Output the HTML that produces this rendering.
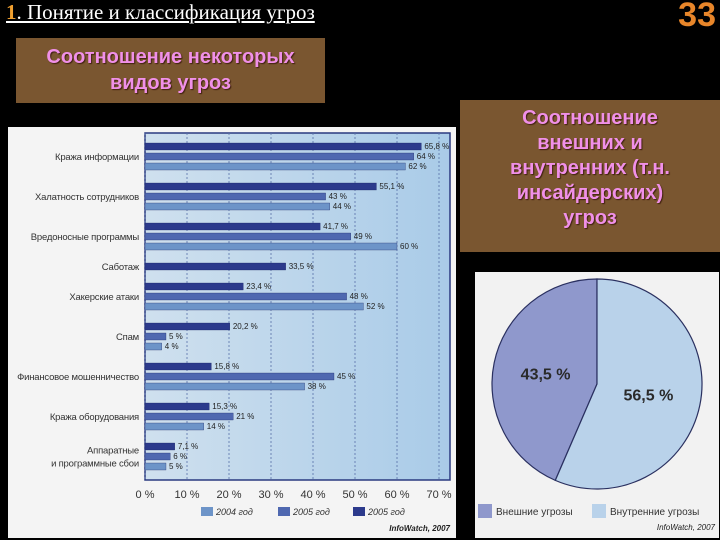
<!DOCTYPE html>
<html><head><meta charset="utf-8"><style>
body{margin:0;width:720px;height:540px;background:#000;overflow:hidden;position:relative;font-family:"Liberation Sans","Noto Sans CJK SC",sans-serif}
.t{position:absolute;left:6px;top:0;font-family:"Liberation Serif",serif;font-size:21px;color:#fff;text-decoration:underline}
.t b{color:#f0a030}
.num{position:absolute;right:4px;top:-4px;font-size:34px;font-weight:bold;color:#e8862a}
.box{position:absolute;background:#7a5630;color:#f090e8;font-weight:bold;text-align:center;text-shadow:1px 1px 1px #402010}
</style></head><body>
<div class="t"><b>1</b>. Понятие и классификация угроз</div>
<div class="num">33</div>
<div class="box" style="left:16px;top:38px;width:309px;height:65px;font-size:20px;line-height:26px;padding-top:6px;box-sizing:border-box">Соотношение некоторых<br>видов угроз</div>
<div class="box" style="left:460px;top:100px;width:260px;height:152px;font-size:20px;line-height:25px;padding-top:6px;box-sizing:border-box">Соотношение<br>внешних и<br>внутренних (т.н.<br>инсайдерских)<br>угроз</div>

<svg id="bar" style="position:absolute;left:8px;top:127px" width="448" height="411"></svg>
<svg id="pie" style="position:absolute;left:475px;top:272px" width="244" height="266"></svg>

<script>
const categories=[["Кража информации"],["Халатность сотрудников"],["Вредоносные программы"],["Саботаж"],["Хакерские атаки"],["Спам"],["Финансовое мошенничество"],["Кража оборудования"],["Аппаратные","и программные сбои"]];
const s2006=[65.8,55.1,41.7,33.5,23.4,20.2,15.8,15.3,7.1];
const s2005=[64,43,49,null,48,5,45,21,6];
const s2004=[62,44,60,null,52,4,38,14,5];
const ticks=[0,10,20,30,40,50,60,70];
const pieValues=[43.5,56.5];
const pieLabels=["Внешние угрозы","Внутренние угрозы"];

const NS="http://www.w3.org/2000/svg";
function mk(p,tag,attrs,txt){const e=document.createElementNS(NS,tag);for(const k in attrs)e.setAttribute(k,attrs[k]);if(txt!=null)e.textContent=txt;p.appendChild(e);return e;}
const bar=document.getElementById('bar');
const X0=137,XS=4.2,PT=6,PB=353;
const xs=v=>X0+v*XS;
const bg=mk(bar,'rect',{x:0,y:0,width:448,height:411,fill:'#f4f4f4'});

const defs=mk(bar,'defs',{});
const lg=mk(defs,'linearGradient',{id:'pg',x1:0,y1:0,x2:1,y2:0});
mk(lg,'stop',{offset:0,'stop-color':'#cfe0ee'});mk(lg,'stop',{offset:1,'stop-color':'#a9cbe8'});
const pa=mk(bar,'rect',{x:X0,y:PT,width:305,height:PB-PT,fill:'url(#pg)',stroke:'#2a3a80','stroke-width':1.5});

ticks.forEach(t=>{
 const g=mk(bar,'line',{x1:xs(t),x2:xs(t),y1:PT,y2:PB,stroke:'#5870a8','stroke-dasharray':'2,2','stroke-width':0.8});
 
 const l=mk(bar,'text',{x:xs(t),y:PB+18,'font-size':11,'text-anchor':'middle',fill:'#333'},t+' %');
 
});
const cols=['#2c3a8c','#4f68b0','#6d94c8'];
let y=PT+13;
categories.forEach((c,i)=>{
 const vals=[s2006[i],s2005[i],s2004[i]].map((v,k)=>[v,k]).filter(a=>a[0]!=null);
 const gy=y;
 vals.forEach(([v,k])=>{
  const r=mk(bar,'rect',{x:X0,y:y-3,width:v*XS,height:7,fill:cols[k],stroke:'#1a2060','stroke-width':0.3});
  
  const vl=mk(bar,'text',{x:xs(v)+3,y:y+3,'font-size':8,fill:'#222'},String(v).replace('.',',')+' %');
  
  y+=10;
 });
 const cy=(gy+y-10)/2+4;
 c.forEach((line,j)=>{
  const t=mk(bar,'text',{x:X0-6,y:cy+(j-(c.length-1)/2)*13,'font-size':9.5,'text-anchor':'end',fill:'#333','letter-spacing':'-0.2'},line);
  
 });
 y+=10;
});
[['2004 год',cols[2],193],['2005 год',cols[1],270],['2005 год',cols[0],345]].forEach(([n,c,x])=>{
 const r=mk(bar,'rect',{x:x,y:380,width:12,height:9,fill:c});
 
 const t=mk(bar,'text',{x:x+15,y:388,'font-size':9,'font-style':'italic',fill:'#333'},n);
 
});
const src=mk(bar,'text',{x:442,y:404,'font-size':8,'font-style':'italic','font-weight':'bold','text-anchor':'end',fill:'#222'},'InfoWatch, 2007');


const pie=document.getElementById('pie');
const pb=mk(pie,'rect',{x:0,y:0,width:244,height:266,fill:'#f2f2f2'});

const cx=122,cy=112,R=105,pc=['#8f98cc','#b9d2ea'];
const tot=pieValues.reduce((a,b)=>a+b,0);
const pt=a=>[cx+R*Math.sin(a),cy-R*Math.cos(a)];
pieValues.forEach((v,i)=>{
 const sweep=v/tot*2*Math.PI;
 let s,e;
 if(i===0){s=-sweep;e=0;}else{s=0;e=2*Math.PI-pieValues[0]/tot*2*Math.PI;}
 const [x1,y1]=pt(s),[x2,y2]=pt(e);
 const p=mk(pie,'path',{d:`M${cx},${cy}L${x1},${y1}A${R},${R} 0 ${e-s>Math.PI?1:0} 1 ${x2},${y2}Z`,fill:pc[i],stroke:'#2a3060','stroke-width':1.2});
 
 const m=(s+e)/2;
 const t=mk(pie,'text',{x:cx+R*0.5*Math.sin(m),y:cy-R*0.5*Math.cos(m)+6,'font-size':16,'font-weight':'bold','text-anchor':'middle',fill:'#2a2a2a'},String(v).replace('.',',')+' %');
 
});
[[0,3],[1,117]].forEach(([i,x])=>{
 const r=mk(pie,'rect',{x:x,y:232,width:14,height:14,fill:pc[i]});
 
 const t=mk(pie,'text',{x:x+18,y:243,'font-size':10,fill:'#333'},pieLabels[i]);
 
});
const ps=mk(pie,'text',{x:240,y:258,'font-size':8,'font-style':'italic','text-anchor':'end',fill:'#222'},'InfoWatch, 2007');

</script>
</body></html>
